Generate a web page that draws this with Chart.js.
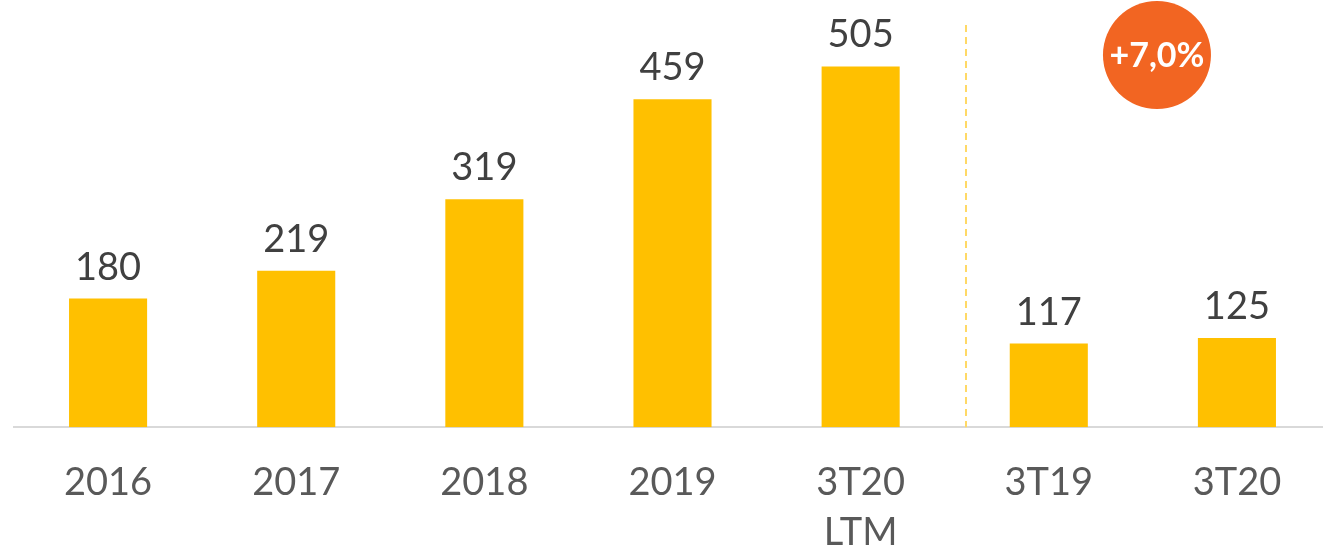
<!DOCTYPE html>
<html>
<head>
<meta charset="utf-8">
<script src="https://cdn.jsdelivr.net/npm/chart.js@4"></script>
<style>
  html, body { margin: 0; padding: 0; background: #fff; overflow: hidden; }
  .chart-wrap { position: relative; width: 1331px; height: 588px; }
</style>
</head>
<body>
<div class="chart-wrap"><canvas id="chart"></canvas></div>
<script>
const categories = ["2016", "2017", "2018", "2019", ["3T20", "LTM"], "3T19", "3T20"];
const values = [180, 219, 319, 459, 505, 117, 125];
const growthLabel = "+7,0%";

const FONT = "Lato, 'Open Sans', sans-serif";

// value labels above each bar
const valueLabels = {
  id: "valueLabels",
  afterDatasetsDraw(chart) {
    const ctx = chart.ctx;
    const meta = chart.getDatasetMeta(0);
    ctx.save();
    ctx.font = "38px " + FONT;
    ctx.fillStyle = "#404040";
    ctx.textAlign = "center";
    ctx.textBaseline = "alphabetic";
    meta.data.forEach((bar, i) => {
      ctx.fillText(String(values[i]), bar.x, bar.y - 19);
    });
    ctx.restore();
  },
};

// dashed separator + growth bubble
const decorations = {
  id: "decorations",
  afterDraw(chart) {
    const ctx = chart.ctx;
    const x = chart.scales.x;
    const area = chart.chartArea;
    const step = x.getPixelForValue(1) - x.getPixelForValue(0);
    const sepX = x.getPixelForValue(4) + step * 0.56;

    ctx.save();
    ctx.strokeStyle = "#FFD966";
    ctx.lineWidth = 2;
    ctx.setLineDash([7, 5]);
    ctx.beginPath();
    ctx.moveTo(sepX, 25);
    ctx.lineTo(sepX, area.bottom);
    ctx.stroke();
    ctx.setLineDash([]);

    const cx = x.getPixelForValue(5) + step * 0.575;
    const cy = 55;
    ctx.fillStyle = "#F26522";
    ctx.beginPath();
    ctx.arc(cx, cy, 54, 0, Math.PI * 2);
    ctx.fill();

    ctx.fillStyle = "#FFFFFF";
    ctx.font = "bold 34px " + FONT;
    ctx.textAlign = "center";
    ctx.textBaseline = "middle";
    ctx.fillText(growthLabel, cx, cy + 1);
    ctx.restore();
  },
};

new Chart(document.getElementById("chart"), {
  type: "bar",
  data: {
    labels: categories,
    datasets: [
      {
        data: values,
        backgroundColor: "#FFC000",
        borderWidth: 0,
        barPercentage: 1,
        categoryPercentage: 0.415,
      },
    ],
  },
  options: {
    responsive: true,
    maintainAspectRatio: false,
    animation: false,
    layout: { padding: { left: 14, right: 0, top: 0, bottom: 0 } },
    plugins: {
      legend: { display: false },
      tooltip: { enabled: false },
    },
    scales: {
      y: {
        display: false,
        min: 0,
        max: 598,
      },
      x: {
        grid: { display: false, drawTicks: false },
        border: { display: true, color: "#D9D9D9", width: 2 },
        ticks: {
          color: "#595959",
          padding: 31,
          font: { family: FONT, size: 38, lineHeight: 1.3 },
          maxRotation: 0,
          autoSkip: false,
        },
      },
    },
  },
  plugins: [valueLabels, decorations],
});
</script>
</body>
</html>
